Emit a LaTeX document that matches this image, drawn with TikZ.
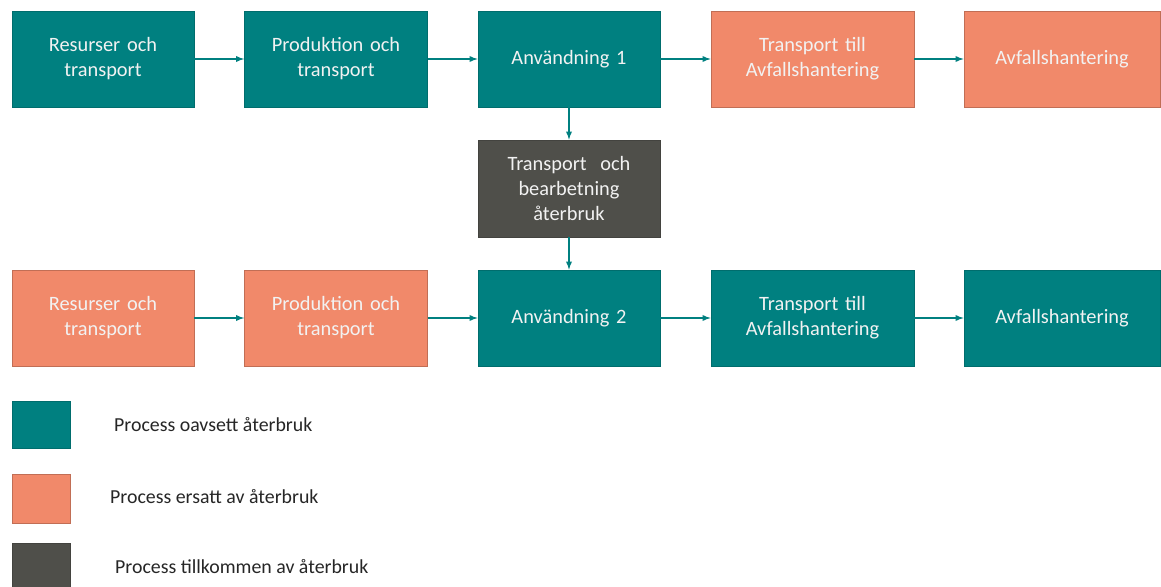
\documentclass[tikz,border=0pt]{standalone}
\usepackage{fontspec}
\setmainfont{Carlito}
\usetikzlibrary{%
  arrows,%
  calc%
}
\definecolor{teal1}{RGB}{0,128,128}
\definecolor{salmon1}{RGB}{241,137,106}
\definecolor{grey1}{RGB}{79,79,74}
\tikzset{>=latex}
\tikzset{
  box/.style={rectangle, minimum height=96*0.02cm, text width=165*0.02cm,
    align=center, text=white!95!black, inner sep=0pt,
    font=\fontsize{11.6}{14.3}\selectfont},
  keep/.style={box, fill=teal1, draw=teal1!85!black},
  repl/.style={box, fill=salmon1, draw=salmon1!80!black},
  added/.style={box, fill=grey1, draw=grey1!85!black},
  key/.style={rectangle, minimum width=58*0.02cm, minimum height=47*0.02cm, inner sep=0pt},
  keytext/.style={anchor=west, text=black!85, font=\fontsize{11.3}{14.2}\selectfont},
  flow/.style={->, teal1, line width=0.6pt}
}

\begin{document}
\begin{tikzpicture}[x=0.02cm,y=-0.02cm]
    \useasboundingbox (0,0) rectangle (1161,587);
    % forsta kedjan
    \node[keep, minimum width=182*0.02cm] (r1) at (103,59) {Resurser och\\transport};
    \node[keep, minimum width=183*0.02cm] (p1) at (336,59) {Produktion och\\transport};
    \node[keep, minimum width=182*0.02cm] (u1) at (569,59) {Användning 1};
    \node[repl, minimum width=203*0.02cm] (t1) at (812.5,59) {Transport till\\Avfallshantering};
    \node[repl, minimum width=196*0.02cm] (a1) at (1062,59) {Avfallshantering};
    % aterbruk
    \node[added, minimum width=182*0.02cm, minimum height=97*0.02cm] (tb) at (569,188.5)
    {Transport\ \ och\\bearbetning\\återbruk};
    % andra kedjan
    \node[repl, minimum width=182*0.02cm] (r2) at (103,318) {Resurser och\\transport};
    \node[repl, minimum width=183*0.02cm] (p2) at (336,318) {Produktion och\\transport};
    \node[keep, minimum width=182*0.02cm] (u2) at (569,318) {Användning 2};
    \node[keep, minimum width=203*0.02cm] (t2) at (812.5,318) {Transport till\\Avfallshantering};
    \node[keep, minimum width=196*0.02cm] (a2) at (1062,318) {Avfallshantering};

    \draw[flow] (r1) -- (p1);
    \draw[flow] (p1) -- (u1);
    \draw[flow] (u1) -- (t1);
    \draw[flow] (t1) -- (a1);
    \draw[flow] (u1) -- (tb);
    \draw[flow] (tb) -- (u2);
    \draw[flow] (r2) -- (p2);
    \draw[flow] (p2) -- (u2);
    \draw[flow] (u2) -- (t2);
    \draw[flow] (t2) -- (a2);

    % forklaring
    \node[key, fill=teal1, draw=teal1!85!black] (k1) at (41,424.5) {};
    \node[key, fill=salmon1, draw=salmon1!80!black, minimum height=49*0.02cm] (k2) at (41,498.5) {};
    \node[key, fill=grey1, draw=grey1!85!black, minimum height=44*0.02cm] (k3) at (41,565) {};
    \node[keytext] (l1) at (108,425) {Process oavsett återbruk};
    \node[keytext] (l2) at (104,497) {Process ersatt av återbruk};
    \node[keytext] (l3) at (109,567) {Process tillkommen av återbruk};
  \end{tikzpicture}
\end{document}
